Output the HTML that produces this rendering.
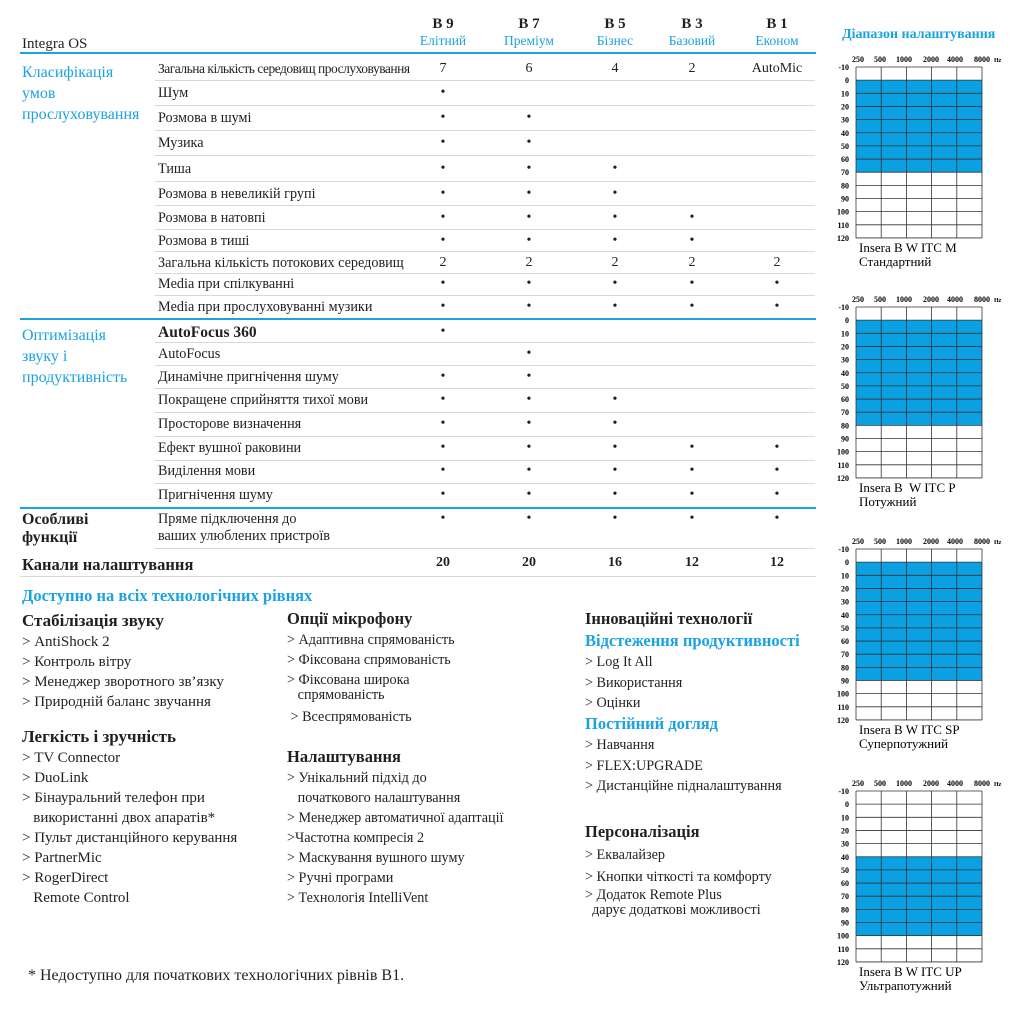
<!DOCTYPE html>
<html><head><meta charset="utf-8"><style>
body{margin:0;width:1024px;height:1022px;background:#fff;position:relative;overflow:hidden;font-family:"Liberation Serif","DejaVu Serif",serif;color:#231f20}
.a{position:absolute;white-space:nowrap}
.b{color:#1ba2e0}
.t{font-size:14.2px}
.h{font-weight:bold}
.l{position:absolute;height:1px;background:#d8d8d8}
.bl{position:absolute;height:2px;background:#1ba2e0}
.c{position:absolute;width:60px;text-align:center;font-size:14px}
</style></head><body>
<div class="a" style="left:22px;top:36px;font-size:15px">Integra OS</div>
<div class="bl" style="left:20px;top:52px;width:796px"></div>
<div class="bl" style="left:20px;top:318px;width:796px;height:1.5px"></div>
<div class="bl" style="left:20px;top:507px;width:796px;height:1.5px"></div>
<div id="hdr"></div>
<div class="a b" style="left:22px;top:62px;font-size:16px;line-height:21px">Класифікація<br>умов<br>прослуховування</div>
<div class="a b" style="left:22px;top:325px;font-size:16px;line-height:21px">Оптимізація<br>звуку і<br>продуктивність</div>
<div class="a h" style="left:22px;top:511px;font-size:16px;line-height:18px">Особливі<br>функції</div>
<div class="a h" style="left:22px;top:555px;font-size:16.5px">Канали налаштування</div>
<div id="tbl"></div>
<div id="charts"></div>
<div class="a b h" style="left:22px;top:586px;font-size:16.5px">Доступно на всіх технологічних рівнях</div>
<div class="a" style="left:22px;top:611px;font-size:15px;line-height:20px"><b style="font-size:17px">Стабілізація звуку</b><br>&gt; AntiShock 2<br>&gt; Контроль вітру<br>&gt; Менеджер зворотного зв’язку<br>&gt; Природній баланс звучання</div>
<div class="a" style="left:22px;top:727px;font-size:15px;line-height:20px"><b style="font-size:17px">Легкість і зручність</b><br>&gt; TV Connector<br>&gt; DuoLink<br>&gt; Бінауральний телефон при<br>&nbsp;&nbsp; використанні двох апаратів*<br>&gt; Пульт дистанційного керування<br>&gt; PartnerMic<br>&gt; RogerDirect<br>&nbsp;&nbsp; Remote Control</div>
<div class="a" style="left:287px;top:609px;font-size:14.2px;line-height:20px"><b style="font-size:16.5px">Опції мікрофону</b><br>&gt; Адаптивна спрямованість<br>&gt; Фіксована спрямованість<br><span style="line-height:15px;display:inline-block;margin-top:3px">&gt; Фіксована широка<br>&nbsp;&nbsp; спрямованість</span><br><span style="display:inline-block;margin-top:2px">&nbsp;&gt; Всеспрямованість</span></div>
<div class="a" style="left:287px;top:747px;font-size:14.2px;line-height:20px"><b style="font-size:16.5px">Налаштування</b><br>&gt; Унікальний підхід до<br>&nbsp;&nbsp; початкового налаштування<br>&gt; Менеджер автоматичної адаптації<br>&gt;Частотна компресія 2<br>&gt; Маскування вушного шуму<br>&gt; Ручні програми<br>&gt; Технологія IntelliVent</div>
<div class="a" style="left:585px;top:609px;font-size:14.2px;line-height:20.5px"><b style="font-size:16.5px">Інноваційні технології</b><br><b class="b" style="font-size:16.5px">Відстеження продуктивності</b><br>&gt; Log It All<br>&gt; Використання<br>&gt; Оцінки<br><b class="b" style="font-size:16.5px">Постійний догляд</b><br>&gt; Навчання<br>&gt; FLEX:UPGRADE<br>&gt; Дистанційне підналаштування</div>
<div class="a" style="left:585px;top:821px;font-size:14.2px;line-height:22px"><b style="font-size:16.5px">Персоналізація</b><br>&gt; Еквалайзер<br>&gt; Кнопки чіткості та комфорту<br><span style="line-height:15px;display:inline-block">&gt; Додаток Remote Plus<br>&nbsp;&nbsp;дарує додаткові можливості</span></div>
<div class="a" style="left:28px;top:967px;font-size:16px">* Недоступно для початкових технологічних рівнів B1.</div>
<div class="a b h" style="left:842px;top:27px;font-size:14px">Діапазон налаштування</div>
<script>
const cols=[443,529,615,692,777];
let h='';
[['B 9','Елітний'],['B 7','Преміум'],['B 5','Бізнес'],['B 3','Базовий'],['B 1','Економ']].forEach((v,i)=>{
h+=`<div class="c" style="left:${cols[i]-30}px;top:16px;font-weight:bold;font-size:15px">${v[0]}</div><div class="c b" style="left:${cols[i]-40}px;width:80px;top:33px;font-size:13.5px">${v[1]}</div>`});
document.getElementById('hdr').innerHTML=h;
const rows=[
['Загальна кількість середовищ прослуховування',69,80,['7','6','4','2','AutoMic'],'font-size:13.5px;letter-spacing:-0.5px'],
['Шум',93,105,'1'],['Розмова в шумі',118,130,'11'],['Музика',143,155,'11'],['Тиша',169,181,'111'],
['Розмова в невеликій групі',194,205,'111'],['Розмова в натовпі',218,229,'1111'],['Розмова в тиші',241,251,'1111'],
['Загальна кількість потокових середовищ',263,273,['2','2','2','2','2']],['Media при спілкуванні',284,295,'11111'],
['Media при прослуховуванні музики',307,null,'11111'],
['AutoFocus 360',332,342,'1','font-weight:bold;font-size:15.5px'],['AutoFocus',354,365,'01'],['Динамічне пригнічення шуму',377,388,'11'],
['Покращене сприйняття тихої мови',400,412,'111'],['Просторове визначення',424,436,'111'],['Ефект вушної раковини',448,460,'11111'],
['Виділення мови',471,483,'11111'],['Пригнічення шуму',495,null,'11111'],
['Пряме підключення до<br>ваших улюблених пристроїв',528,548,'11111','line-height:17px'],
];
h='';
rows.forEach(r=>{
let ty=r[1]-8; if(r[0].startsWith('Пряме'))ty=511;
h+=`<div class="a t" style="left:158px;top:${ty}px;${r[4]||''}">${r[0]}</div>`;
if(r[2])h+=`<div class="l" style="left:155px;top:${r[2]}px;width:660px"></div>`;
let v=r[3];
for(let i=0;i<5;i++){let s=typeof v==='string'?(v[i]==='1'?'•':''):v[i];
let y=r[1]-8; if(r[0].startsWith('Пряме'))y=511;
if(s)h+=`<div class="c" style="left:${cols[i]-30}px;top:${y}px">${s}</div>`}
});
['20','20','16','12','12'].forEach((s,i)=>h+=`<div class="c" style="left:${cols[i]-30}px;top:555px;font-weight:bold;font-size:14px">${s}</div>`);
h+=`<div class="l" style="left:20px;top:576px;width:796px"></div>`;
document.getElementById('tbl').innerHTML=h;
const charts=[[67,0,70,'Insera B W ITC M','Стандартний'],[307,0,80,'Insera B&nbsp; W ITC P','Потужний'],[549,0,90,'Insera B W ITC SP','Суперпотужний'],[791,40,100,'Insera B W ITC UP','Ультрапотужний']];
h='';
charts.forEach(c=>{
let y0=c[0],rh=13.15;
let s=`<svg class="a" style="left:830px;top:${y0-20}px" width="194" height="${20+13*rh+50}" font-family="Liberation Serif,serif" font-weight="bold" font-size="8">`;
let Y=v=>20+((v+10)/10)*rh;
s+=`<rect x="26" y="${Y(c[1])}" width="126" height="${Y(c[2])-Y(c[1])}" fill="#0ba0e2"/>`;
for(let k=0;k<=13;k++)s+=`<line x1="26" x2="152" y1="${20+k*rh}" y2="${20+k*rh}" stroke="#333" stroke-width="0.8"/>`;
for(let k=0;k<=5;k++){let x=26+k*25.2;s+=`<line x1="${x}" x2="${x}" y1="20" y2="${20+13*rh}" stroke="#333" stroke-width="0.8"/>`}
for(let k=0;k<=13;k++){let v=-10+k*10;s+=`<text x="19" y="${20+k*rh+3}" text-anchor="end">${v}</text>`}
[['250',28],['500',50],['1000',74],['2000',101],['4000',125],['8000',152]].forEach(t=>s+=`<text x="${t[1]}" y="15" text-anchor="middle">${t[0]}</text>`);
s+=`<text x="164" y="15" font-size="6">Hz</text>`;
s+=`<text x="29" y="${20+13*rh+14}" font-weight="normal" font-size="13">${c[3]}</text><text x="29" y="${20+13*rh+28}" font-weight="normal" font-size="13">${c[4]}</text></svg>`;
h+=s});
document.getElementById('charts').innerHTML=h;
</script>
</body></html>
